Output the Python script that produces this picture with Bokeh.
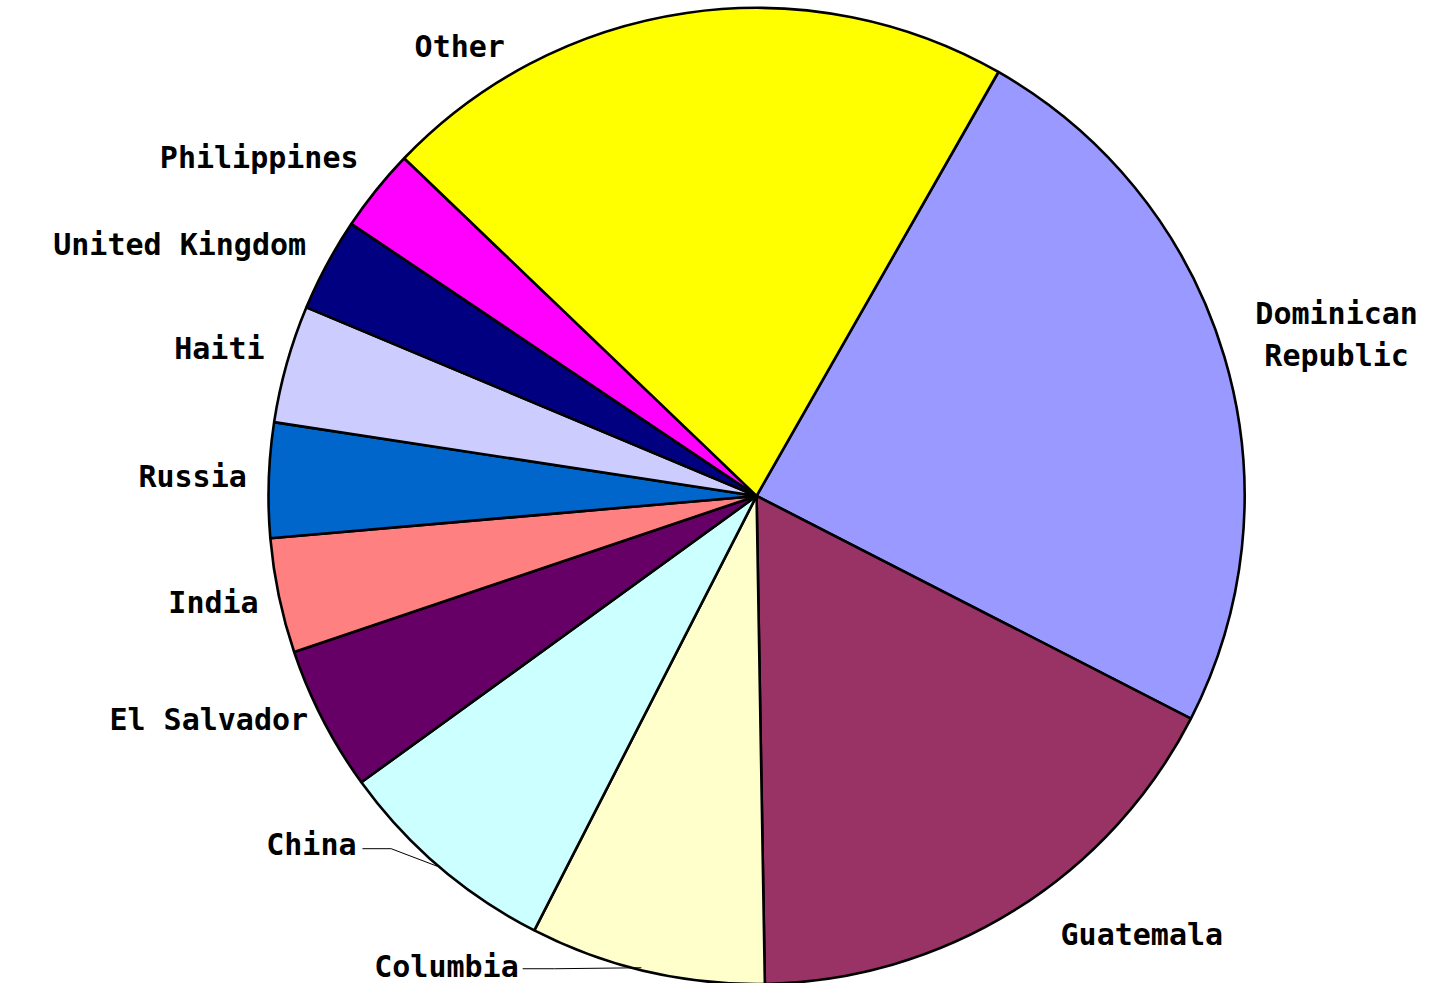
import math
from bokeh.plotting import figure
from bokeh.models import ColumnDataSource, Range1d
from bokeh.core.properties import value
from bokeh.embed import file_html
from bokeh.resources import INLINE

# ---- data (share of total, %) in clockwise order starting at ~60 deg ----
countries = ["Dominican Republic", "Guatemala", "Columbia", "China", "El Salvador",
             "India", "Russia", "Haiti", "United Kingdom", "Philippines", "Other"]
shares = [24.3, 17.2, 7.8, 7.5, 4.8, 3.8, 3.8, 3.9, 3.1, 2.75, 21.1]
colors = ["#9999FF", "#993366", "#FFFFCC", "#CCFFFF", "#660066",
          "#FF8080", "#0066CC", "#CCCCFF", "#000080", "#FF00FF", "#FFFF00"]

W, H = 1436, 983
REF_W, REF_H = 1452, 999
CX, CY, R = 764.5, 503.5, 493.5
START_DEG = 60.3

def Y(ry):
    return REF_H - ry

total = sum(shares)
starts, ends = [], []
a = math.radians(START_DEG)
for s in shares:
    span = 2 * math.pi * s / total
    # counter-clockwise wedge from (a - span) to a  == clockwise from a
    starts.append(a - span)
    ends.append(a)
    a -= span

src = ColumnDataSource(dict(country=countries, share=shares, color=colors,
                            start=starts, end=ends))

p = figure(width=W, height=H, output_backend="svg", toolbar_location=None,
           x_range=Range1d(0, REF_W), y_range=Range1d(0, REF_H),
           min_border=0, outline_line_color=None)
p.axis.visible = False
p.grid.visible = False
p.background_fill_color = "white"
p.border_fill_color = "white"

p.wedge(x=CX, y=Y(CY), radius=R, start_angle="start", end_angle="end",
        fill_color="color", line_color="black", line_width=2.6, source=src)

# labels
label_pos = {
    "Other": (510, 47, "right"),
    "Philippines": (362, 160, "right"),
    "United Kingdom": (309, 248, "right"),
    "Haiti": (267, 354, "right"),
    "Russia": (249, 484, "right"),
    "India": (261, 612, "right"),
    "El Salvador": (311, 731, "right"),
    "China": (360, 858, "right"),
    "Columbia": (524, 982, "right"),
    "Guatemala": (1154, 949, "center"),
    "Dominican Republic": (1351, 339, "center"),
}
for name in countries:
    x, y, al = label_pos[name]
    txt = "Dominican\nRepublic" if name == "Dominican Republic" else name
    p.text(x=[x], y=[Y(y)], text=[txt], text_align=al, text_baseline="middle",
           text_font=value("DejaVu Sans Mono"), text_font_style="bold",
           text_font_size="30px", text_color="black", text_line_height=1.2)

# leader lines
p.line(x=[366, 395, 442], y=[Y(862), Y(862), Y(880)], line_color="black", line_width=1)
p.line(x=[528, 560, 648], y=[Y(984), Y(984), Y(983)], line_color="black", line_width=1)

open("out.html", "w").write(file_html(p, INLINE))
